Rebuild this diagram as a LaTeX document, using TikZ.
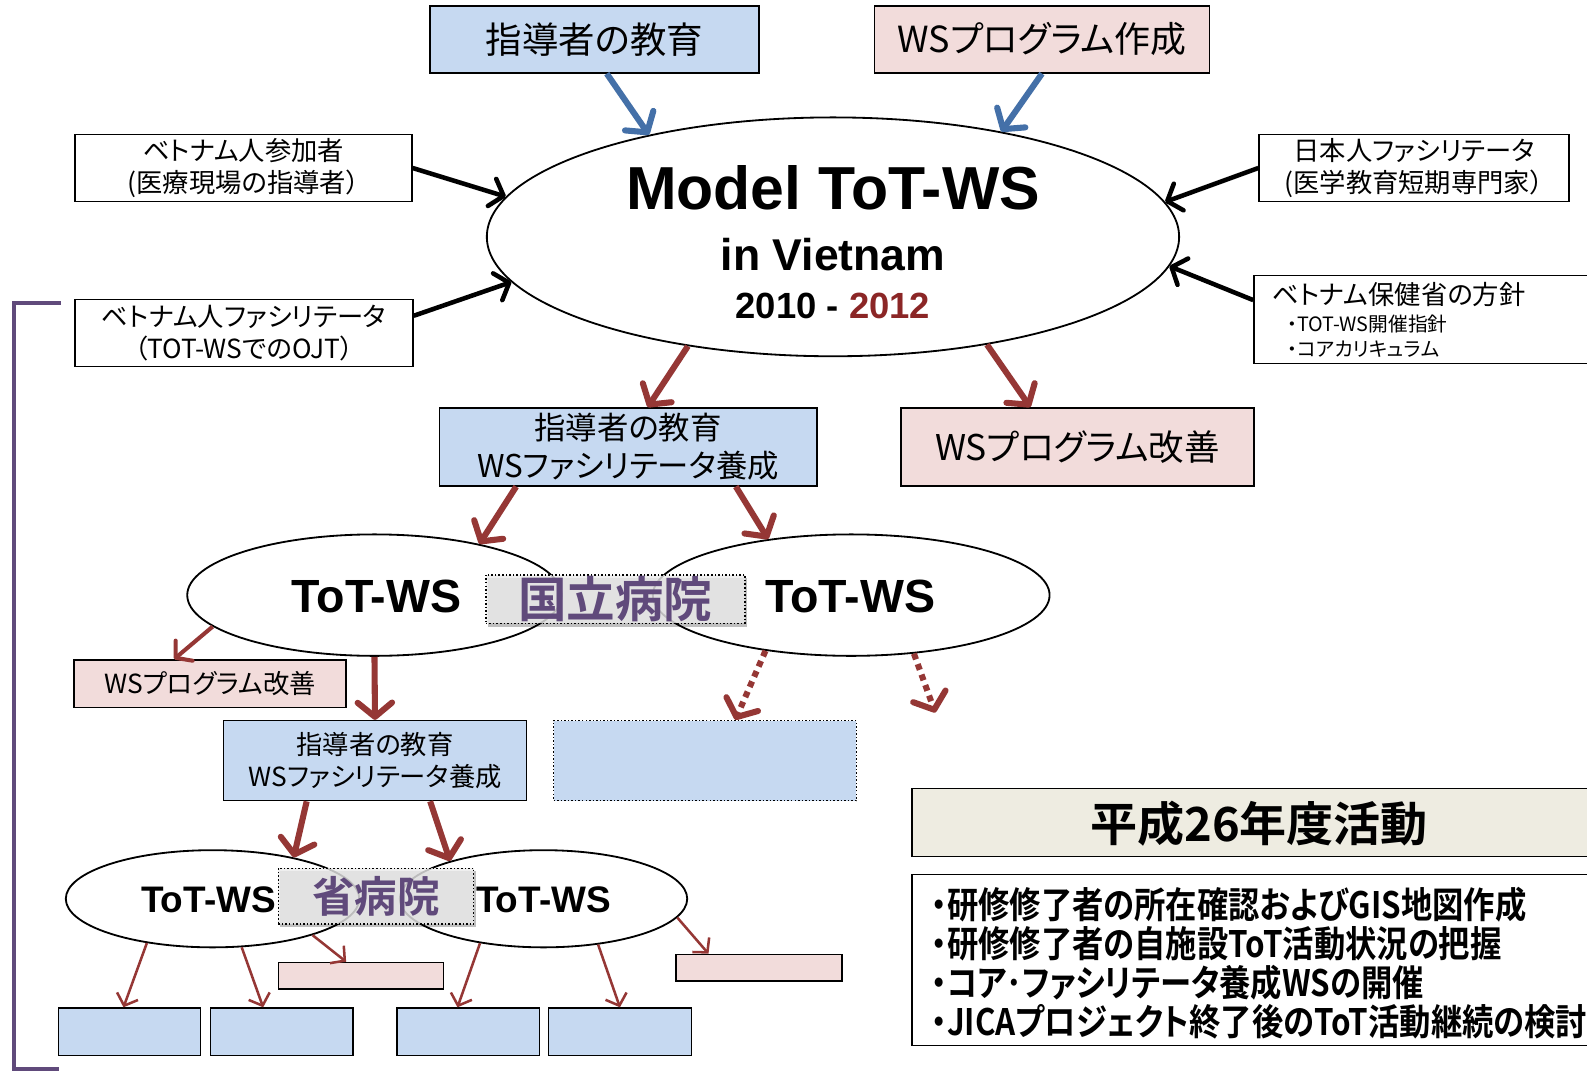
\documentclass[tikz,border=0pt]{standalone}
\usepackage{fontspec}
\setmainfont{Liberation Sans}
\newfontfamily\jp{Noto Sans CJK JP}[RawFeature=+palt,BoldFont={Noto Sans CJK JP Bold}]
\newfontfamily\jpc{Noto Sans CJK JP Bold}[RawFeature=+palt,FakeStretch=0.86]
\usetikzlibrary{arrows.meta,shapes.geometric,shadows}
\definecolor{boxblue}{HTML}{C6D9F1}
\definecolor{boxpink}{HTML}{F2DCDB}
\definecolor{actbg}{HTML}{EEECE1}
\definecolor{arrred}{HTML}{953735}
\definecolor{arrblue}{HTML}{4470A8}
\definecolor{purp}{HTML}{604A7B}
\definecolor{yearred}{HTML}{8B2626}
\newcommand\fsz[2]{\fontsize{#1}{#2}\selectfont}
\tikzset{
  box/.style={draw=black, line width=1.5pt, inner sep=0pt, align=center},
  bbox/.style={box, fill=boxblue},
  pbox/.style={box, fill=boxpink},
  wbox/.style={box, fill=white},
  oval/.style={ellipse, draw=black, line width=1.8pt, inner sep=0pt},
  gbox/.style={draw=black, dotted, line width=1.5pt, fill=black!8, fill opacity=0.8, text opacity=1, inner sep=0pt,
     drop shadow={shadow xshift=2pt, shadow yshift=-3pt, opacity=0.25, fill=black}, text=purp},
  redbig/.style={draw=arrred, line width=6pt, -{Straight Barb[length=14pt,width=34pt,round]}},
  reddot/.style={redbig, dash pattern=on 6pt off 5pt},
  redmid/.style={draw=arrred, line width=4pt, -{Straight Barb[length=11pt,width=26pt,round]}},
  redthin/.style={draw=arrred, line width=2.5pt, -{Straight Barb[length=10pt,width=22pt]}},
  bluebig/.style={draw=arrblue, line width=6pt, -{Straight Barb[length=14pt,width=34pt,round]}},
  blackarr/.style={draw=black, line width=4.5pt, -{Straight Barb[length=12pt,width=28pt,round]}},
  bracket/.style={draw=purp, line width=4pt},
}
\begin{document}
\begin{tikzpicture}[x=1pt,y=-1pt]
\useasboundingbox (0,0) rectangle (1568,1059.2);
\clip (0,0) rectangle (1568,1059.2);
\fill[white] (0,0) rectangle (1568,1059.2);

% top boxes
\node[bbox, minimum width=325pt, minimum height=66pt, font=\jp\fsz{36}{40}] (t1) at (587.5,39) {指導者の教育};
\node[pbox, minimum width=331pt, minimum height=66pt, font=\jp\fsz{35.5}{40}] (t2) at (1029.5,39) {WSプログラム作成};

% central ellipse
\node[oval, minimum width=684pt, minimum height=236pt] (E) at (823,234) {};
\node[font=\fsz{60}{60}\bfseries] (m1) at (823,186) {Model ToT-WS};
\node[font=\fsz{44}{44}\bfseries] (m2) at (823,252) {in Vietnam};
\node[font=\fsz{36}{36}\bfseries] (m3) at (823,302) {2010 - {\color{yearred}2012}};

% side boxes
\node[wbox, minimum width=333pt, minimum height=66pt, font=\jp\fsz{26}{32}] (b1) at (240.5,166) {ベトナム人参加者\\(医療現場の指導者）};
\node[wbox, minimum width=334pt, minimum height=66pt, font=\jp\fsz{26}{32}] (b2) at (241,329) {ベトナム人ファシリテータ\\（TOT-WSでのOJT）};
\node[wbox, minimum width=306pt, minimum height=66pt, font=\jp\fsz{26}{32}] (b3) at (1397,166) {日本人ファシリテータ\\(医学教育短期専門家）};
\node[wbox, minimum width=360pt, minimum height=87pt] (b4) at (1419,315.5) {};
\node[anchor=west, inner sep=0pt, font=\jp\fsz{26}{30}] (b4a) at (1257,291) {ベトナム保健省の方針};
\node[anchor=west, inner sep=0pt, font=\jp\fsz{19.5}{22}] (b4b) at (1272,320) {・TOT-WS開催指針};
\node[anchor=west, inner sep=0pt, font=\jp\fsz{19.5}{22}] (b4c) at (1272,345) {・コアカリキュラム};

% arrows into central ellipse
\draw[bluebig] ([xshift=12pt]t1.south) -- (E.151);
\draw[bluebig] (t2.south) -- (E.32);
\draw[blackarr] (b1.east) -- (E.173);
\draw[blackarr] ([yshift=17pt]b2.east) -- (E.188);
\draw[blackarr] (b3.west) -- (E.6);
\draw[blackarr] ([yshift=19pt]b4.west) -- (E.355);

% second level
\node[bbox, minimum width=373pt, minimum height=77pt, font=\jp\fsz{31}{37}] (mb) at (620.5,441.5) {指導者の教育\\WSファシリテータ養成};
\node[pbox, minimum width=349pt, minimum height=77pt, font=\jp\fsz{35}{40}] (mp) at (1064.5,441.5) {WSプログラム改善};
\draw[redbig] (E.217) -- ([xshift=19.5pt]mb.north);
\draw[redbig] (E.325) -- ([xshift=-46.5pt]mp.north);

% national hospital ToT-WS
\node[oval, minimum width=370pt, minimum height=120pt] (L) at (370,588) {};
\node[oval, minimum width=392pt, minimum height=120pt] (R) at (841,588) {};
\node[font=\fsz{46}{46}\bfseries] (Lt) at (372,589) {ToT-WS};
\node[font=\fsz{46}{46}\bfseries] (Rt) at (840,589) {ToT-WS};
\node[gbox, minimum width=256pt, minimum height=48pt, font=\jp\bfseries\fsz{48}{50}] (G1) at (608,592) {国立病院};
\draw[redbig] ([xshift=-110.5pt]mb.south) -- (L.26);
\draw[redbig] ([xshift=106.5pt]mb.south) -- (R.146);

% third level
\node[pbox, minimum width=269pt, minimum height=47pt, font=\jp\fsz{26}{30}] (sp1) at (207.5,675.5) {WSプログラム改善};
\node[bbox, minimum width=299pt, minimum height=79pt, font=\jp\fsz{26}{31}] (mb2) at (370.5,751.5) {指導者の教育\\WSファシリテータ養成};
\node[bbox, draw=black, dotted, minimum width=299pt, minimum height=79pt] (db) at (696.5,751.5) {};
\coordinate (dend) at (924,704);
\draw[redmid] (L.191) -- ([xshift=-35.5pt]sp1.north);
\draw[redbig] (L.south) -- (mb2.north);
\draw[reddot] (R.213) -- ([xshift=30pt]db.north);
\draw[reddot] (R.317) -- (dend);

% provincial hospital ToT-WS
\node[oval, minimum width=290pt, minimum height=96pt] (LL) at (210,888) {};
\node[oval, minimum width=284pt, minimum height=96pt] (LR) at (537,888) {};
\node[font=\fsz{36.5}{36}\bfseries] (LLt) at (206,889) {ToT-WS};
\node[font=\fsz{36.5}{36}\bfseries] (LRt) at (537,889) {ToT-WS};
\node[gbox, minimum width=193pt, minimum height=55pt, font=\jp\bfseries\fsz{42}{44}] (G2) at (371.5,885.5) {省病院};
\draw[redbig] ([xshift=-67.5pt]mb2.south) -- (LL.27);
\draw[redbig] ([xshift=54.5pt]mb2.south) -- (LR.158);

% bottom boxes
\node[pbox, minimum width=163pt, minimum height=26pt] (sp2) at (356.5,964) {};
\node[pbox, minimum width=164pt, minimum height=26pt] (sp3) at (750,956) {};
\node[bbox, minimum width=140pt, minimum height=47pt] (bb1) at (128,1019.5) {};
\node[bbox, minimum width=141pt, minimum height=47pt] (bb2) at (278.5,1019.5) {};
\node[bbox, minimum width=141pt, minimum height=47pt] (bb3) at (462.5,1019.5) {};
\node[bbox, minimum width=141pt, minimum height=47pt] (bb4) at (612.5,1019.5) {};
\draw[redthin] (LL.214) -- ([xshift=-6pt]bb1.north);
\draw[redthin] (LL.301) -- ([xshift=-18.5pt]bb2.north);
\draw[redthin] (LL.340) -- ([xshift=-14.5pt]sp2.north);
\draw[redthin] (LR.215) -- ([xshift=-10.5pt]bb3.north);
\draw[redthin] (LR.320) -- (bb4.north);
\draw[redthin] (LR.352) -- ([xshift=-50pt]sp3.north);

% purple bracket
\coordinate (k1) at (60,299);
\coordinate (k2) at (14,299);
\coordinate (k3) at (14,1056);
\coordinate (k4) at (58,1056);
\draw[bracket] (k1) -- (k2) -- (k3) -- (k4);

% activities
\node[box, fill=actbg, minimum width=699pt, minimum height=67pt] (act) at (1250.5,812.5) {};
\node[font=\jp\bfseries\fsz{46.5}{50}] (actt) at (1244,814) {平成26年度活動};
\node[wbox, minimum width=699pt, minimum height=169pt] (lst) at (1250.5,948.5) {};
\node[anchor=west, align=left, inner sep=0pt, font=\jpc\fsz{36}{38.5}] (lstt) at (920,951.5) {・研修修了者の所在確認およびGIS地図作成\\・研修修了者の自施設ToT活動状況の把握\\・コア･ファシリテータ養成WSの開催\\・JICAプロジェクト終了後のToT活動継続の検討};
\end{tikzpicture}
\end{document}
